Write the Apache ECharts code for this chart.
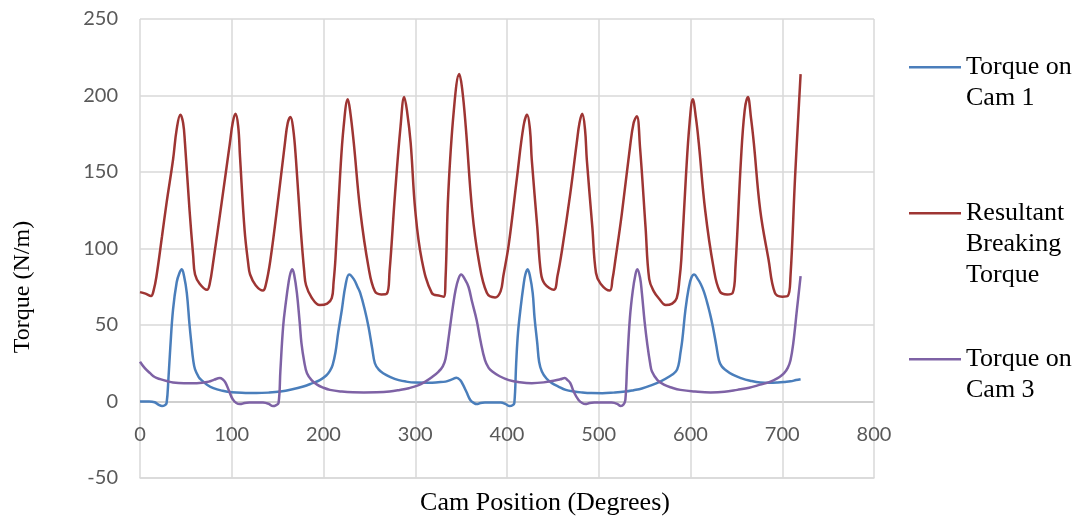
<!DOCTYPE html>
<html><head><meta charset="utf-8">
<script src="https://cdn.jsdelivr.net/npm/echarts@6/dist/echarts.min.js"></script>
<style>html,body{margin:0;padding:0;background:#fff}#c{width:1081px;height:518px}</style>
</head><body><div id="c"></div>
<script>
const seriesNames = ['Torque on\nCam 1', 'Resultant\nBreaking\nTorque', 'Torque on\nCam 3'];
const seriesColors = ['#4a7ebb', '#9e3533', '#7e62a5'];
const xTitle = 'Cam Position (Degrees)';
const yTitle = 'Torque (N/m)';
const xRange = [0, 800, 100];
const yRange = [-50, 250, 50];

// [cam angle (deg), torque]
const torqueCam1 = [[0,0],[10,0],[16,-0.5],[20,-2],[24,-3],[27,-2.5],[29,-1],[31,15],[33,35],[36,60],[40,78],[43,84],[45.5,86.5],[48,82],[51,71],[54,50],[56,38],[58,27],[60,21],[64,16],[67,14],[73,11],[80,8.7],[90,7],[100,6],[115,5.6],[127,5.5],[140,5.8],[153,6.5],[165,7.8],[178,9.8],[188,12],[196,14],[203,17],[207,20],[210,24],[213,32],[216,45],[220,60],[224,76],[228,83],[233,80],[237,75],[240,71],[245,60],[249,49],[253,35],[256,25],[260,21],[265,18.5],[273,16],[282,14],[290,13],[300,12.4],[315,12.3],[325,12.6],[333,13],[340,14.5],[345,15.5],[349,14],[352,11],[356,6],[360,1],[364,-1],[367,-1.7],[371,-1],[376,-0.7],[385,-0.6],[393,-0.7],[398,-1.5],[403,-3],[406,-2.5],[408,-1],[410,25],[412,45],[415,62],[418,76],[420,83],[422.5,86.5],[425,82],[428,71],[430,55],[433,38],[435,26],[438,19.6],[443,15],[449,12],[456,9.8],[464,7.6],[473,6.5],[482,5.9],[492,5.5],[504,5.4],[516,5.8],[529,6.5],[538,7.4],[547,8.5],[557,10.5],[567,13],[576,16],[584,19.6],[587,24],[589,31.6],[591,40],[594.5,60],[598,74],[601,81],[604,83],[608,80],[611,77],[614.5,72],[618,65],[621,58],[624,50],[628,37],[631,27],[634,23],[638,20.7],[646,17.5],[655,15.3],[665,13.6],[676,12.4],[686,12.2],[695,12.4],[703,12.8],[709,13.2],[715,14],[720,14.6]];

const resultantTorque = [[0,71.5],[6,70.5],[12,69],[15,73],[18,82],[24,108],[29,130],[36,158],[40,178],[44,187.5],[47,182],[49,169],[54,125],[58,95],[60,83],[65,77],[73,73],[76,77],[80,92],[89,130],[98,169],[101,182],[104,188],[107,180],[109,160],[114,112],[118,90],[120,83],[126,76],[134,72.5],[137,76],[142,92],[151,134],[158,169],[161,182],[164,186],[167,178],[170,158],[175,114],[179,85],[181,76],[187,68],[196,63],[204,64],[209,67.5],[211,78],[213,93],[218,147],[222,180],[226.5,197.5],[229,190],[233,169],[240,125],[249,88],[256,72],[263,70],[269,70.5],[272,85],[278,136],[284,180],[288,199],[291,190],[295,169],[300,125],[307,93],[318,71],[327,69],[331,68.5],[333,80],[336,136],[342,190],[348,214],[351,205],[355,180],[362,125],[369,93],[378,71],[387,68],[393,72],[396,82],[402,103],[411,147],[418,180],[422,187.5],[425,178],[427,158],[433,114],[437,84],[441,77],[451,73],[455,82],[460,99],[469,136],[476,169],[479,182],[482,188],[485,178],[487,158],[493,114],[497,84],[502,77],[512,72.5],[515,80],[518,92],[525,122],[534,166],[538,182],[541.5,186.5],[545,166],[551,114],[555,80],[560,72],[566,67],[573,63],[580,64],[585,67.5],[588,80],[590,93],[595,147],[599,182],[602.5,197.5],[606,185],[609,169],[616,125],[625,88],[632,72],[640,70],[646,71],[649,88],[655,158],[659,190],[662.5,199],[666,185],[669,169],[676,125],[685,93],[692,71],[700,68.5],[706,69],[709,82],[714,147],[720,214]];

const torqueCam3 = [[0,26],[5,22],[11,18.5],[16,16],[22,14.6],[30,13.2],[36,12.4],[48,12],[62,12],[70,12.5],[75,13],[81,14.3],[87,15.3],[90,14.5],[93,12.5],[97,7],[101,1.5],[105,-1],[109,-1.7],[114,-1],[120,-0.7],[128,-0.6],[134,-0.7],[140,-1.5],[145,-3],[148,-2.5],[151,-1],[153,20],[156,49],[159,65],[162,78],[164,84],[166,86.5],[168,83],[171,71],[174,52],[176,38],[179,26],[182,18.5],[187,14],[193,11],[200,9],[207,7.6],[220,6.5],[232,6],[244,5.9],[258,6],[272,6.5],[283,7.5],[293,8.7],[303,10.5],[311,13],[318,15.8],[325.5,19.6],[330,23],[333,28],[336,40],[338,49],[341,62],[344,73],[347,80],[350,83],[354,80],[358,75],[362,65],[367,53],[371,40],[376,27],[380,22],[384,19.6],[392,16.5],[402,14],[414,12.6],[427,12],[440,12.5],[452,13.7],[458,14.5],[463,15.3],[466,14],[469,12],[473,6],[478,1],[482,-1],[485.5,-1.7],[490,-1],[496,-0.7],[505,-0.6],[514,-0.7],[520,-1.5],[524,-3],[527,-2],[529,1],[531,25],[534,55],[537,72],[540,83],[542,86.5],[545,81],[547,71],[550,52],[553,37],[556,25],[558,19.6],[564,14],[571,11],[580,9],[589,7.6],[605,6.5],[622,5.9],[637,6.3],[651,7.6],[664,9],[676,11],[685,12.5],[691,14],[697,16],[702,18.5],[706,22],[709,27],[712,38],[716,60],[720,82]];

const seriesData = [torqueCam1, resultantTorque, torqueCam3];

const chart = echarts.init(document.getElementById('c'), null, {renderer: 'canvas'});
const LH = 31;
const legendIconY = [67.3, 213.3, 359.3];
const lineCounts = seriesNames.map(n => n.split('\n').length);

// horizontal grid lines: the zero line is a touch darker
const yLineColors = [];
for (let v = yRange[0]; v <= yRange[1]; v += yRange[2]) yLineColors.push(v === 0 ? '#bfbfbf' : '#d9d9d9');

const option = {
  animation: false,
  backgroundColor: '#ffffff',
  grid: {left: 140, right: 207, top: 19, bottom: 40, containLabel: false, outerBoundsMode: 'none'},
  legend: seriesNames.map((n, i) => {
    const total = 2 * lineCounts[i] - 1;
    return {
      data: [n],
      orient: 'vertical',
      left: 909,
      top: legendIconY[i] - total * LH / 2,
      padding: 0,
      icon: 'rect',
      itemWidth: 52,
      itemHeight: 2.5,
      selectedMode: false,
      formatter: name => '\n'.repeat(lineCounts[i] - 1) + name,
      textStyle: {fontFamily: 'Liberation Serif', fontSize: 26, color: '#000', lineHeight: LH}
    };
  }),
  xAxis: {
    type: 'value',
    min: xRange[0], max: xRange[1], interval: xRange[2],
    name: xTitle,
    nameLocation: 'middle',
    nameGap: 12,
    nameTextStyle: {fontFamily: 'Liberation Serif', fontSize: 26, color: '#000', padding: [0, 0, 0, 76]},
    axisLine: {show: true, onZero: false, lineStyle: {color: '#d9d9d9', width: 1.5}},
    axisTick: {show: false},
    axisLabel: {margin: -53, fontFamily: 'Lato', fontSize: 20, color: '#595959'},
    splitLine: {show: true, lineStyle: {color: '#d9d9d9', width: 1.5}}
  },
  yAxis: {
    type: 'value',
    min: yRange[0], max: yRange[1], interval: yRange[2],
    name: yTitle,
    nameLocation: 'middle',
    nameGap: 105,
    nameTextStyle: {fontFamily: 'Liberation Serif', fontSize: 24, color: '#000', padding: [0, 77, 0, 0]},
    axisLine: {show: false},
    axisTick: {show: false},
    axisLabel: {margin: 22, fontFamily: 'Lato', fontSize: 20, color: '#595959'},
    splitLine: {show: true, lineStyle: {color: yLineColors, width: 1.5}}
  },
  series: seriesNames.map((n, i) => ({
    name: n,
    type: 'line',
    data: seriesData[i],
    smooth: 0.4,
    symbol: 'none',
    lineStyle: {color: seriesColors[i], width: 2.5},
    itemStyle: {color: seriesColors[i]}
  }))
};
chart.setOption(option);
</script>
</body></html>
